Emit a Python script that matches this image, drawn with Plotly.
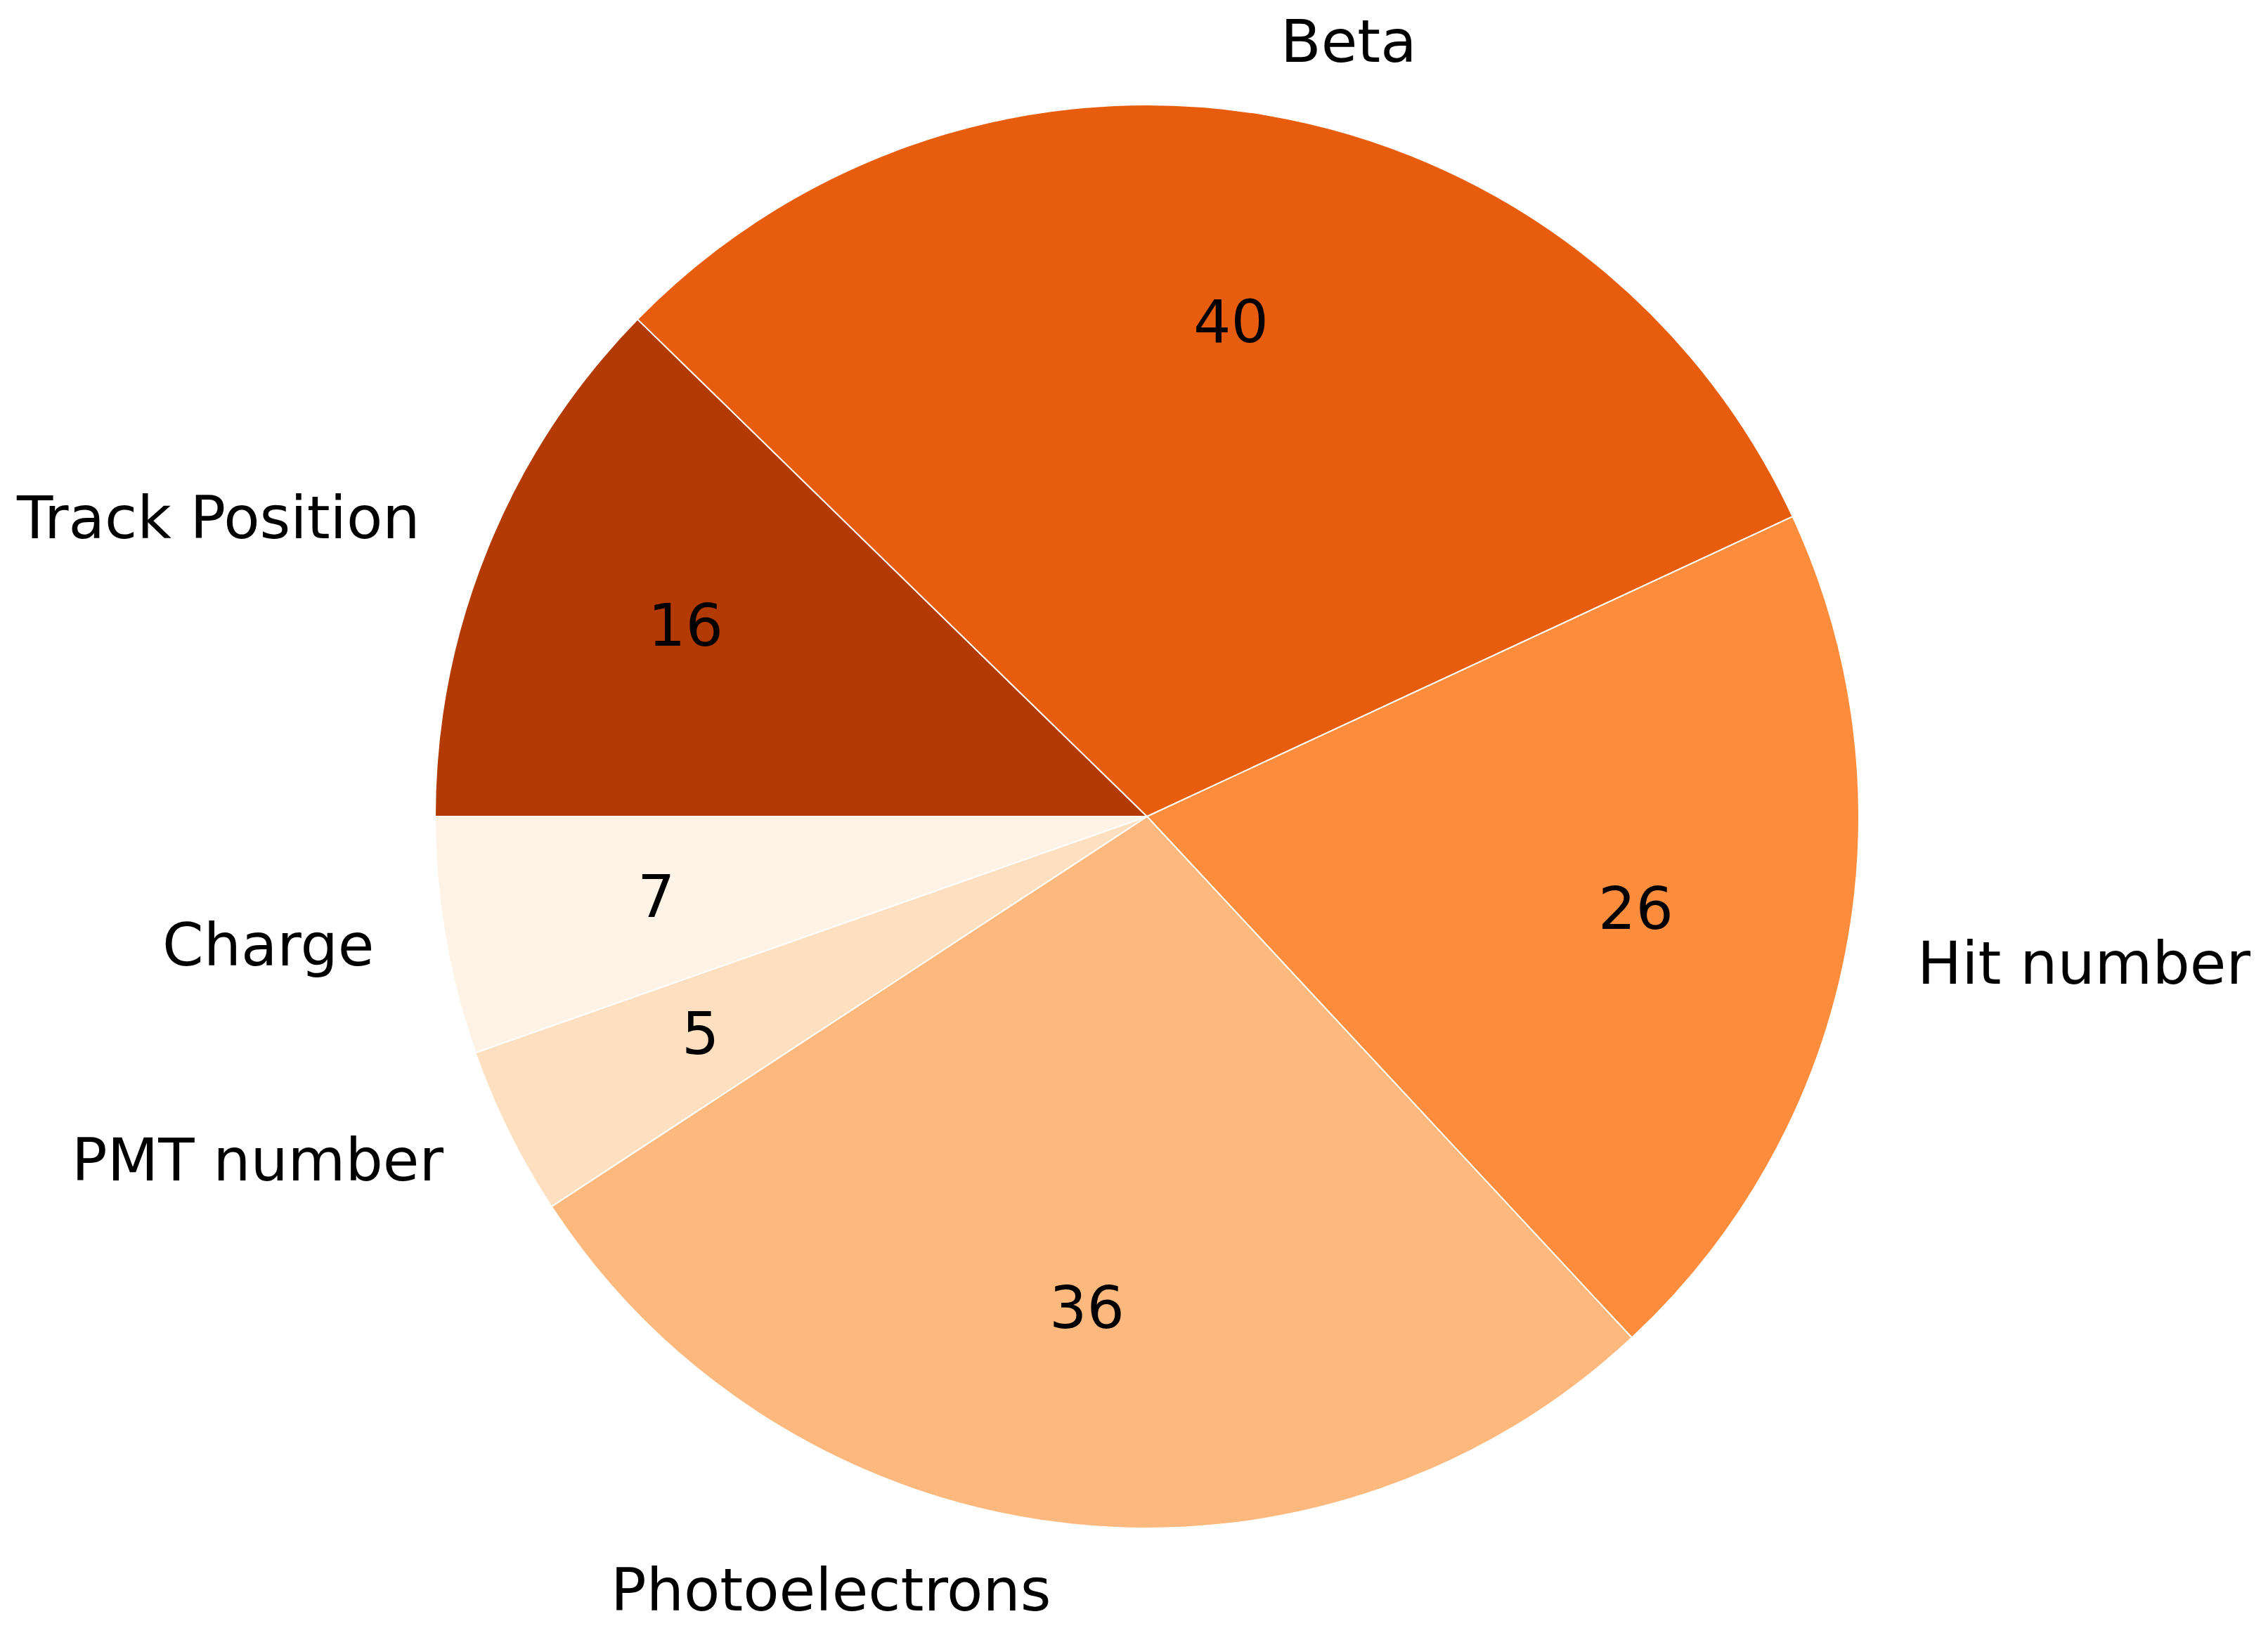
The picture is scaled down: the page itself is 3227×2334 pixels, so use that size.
import numpy as np
import plotly.graph_objects as go

# 扇區資料（順時針，從 9 點鐘方向開始）
labels = ["Track Position", "Beta", "Hit number", "Photoelectrons", "PMT number", "Charge"]
values = [16, 40, 26, 36, 5, 7]
colors = ["#b33a02", "#e85d0d", "#fd8d3c", "#fdb97d", "#fedfc0", "#fff3e7"]

W, H = 3227, 2334
cx, cy, R = 1624, 1154, 1013  # 圓心與半徑（像素）
cy_b = H - cy

fig = go.Figure()

fig.add_trace(go.Pie(
    labels=labels,
    values=values,
    sort=False,
    direction="clockwise",
    rotation=270,
    marker=dict(colors=colors, line=dict(color="white", width=2)),
    textinfo="none",
    hoverinfo="label+value",
    showlegend=False,
    domain=dict(x=[(cx - R) / W, (cx + R) / W], y=[(cy_b - R) / H, (cy_b + R) / H]),
))

# 由數值計算每個扇區的中間角度
vals = np.array(values, dtype=float)
total = vals.sum()
cum = np.concatenate([[0], np.cumsum(vals)[:-1]])
mid = np.deg2rad(180 - 360 * (cum + vals / 2) / total)

font = dict(family="DejaVu Sans", size=84, color="black")

# 外側標籤 (1.1R) 與內側數值 (0.7R)，用註解放在圓餅圖上層
for lab, v, a in zip(labels, values, mid):
    c, s = np.cos(a), np.sin(a)
    fig.add_annotation(
        x=1.1 * c, y=1.1 * s, xref="x", yref="y",
        text=lab, showarrow=False, font=font,
        xanchor="left" if c > 0 else "right", yanchor="middle", yshift=5,
    )
    fig.add_annotation(
        x=0.7 * c, y=0.7 * s, xref="x", yref="y",
        text=str(v), showarrow=False, font=font,
        xanchor="center", yanchor="middle", yshift=5,
    )

fig.update_layout(
    width=W,
    height=H,
    margin=dict(l=0, r=0, t=0, b=0),
    paper_bgcolor="white",
    plot_bgcolor="rgba(0,0,0,0)",
    xaxis=dict(range=[-cx / R, (W - cx) / R], visible=False, fixedrange=True),
    yaxis=dict(range=[-cy_b / R, cy / R], visible=False, fixedrange=True),
)

fig.write_html("out.html")
